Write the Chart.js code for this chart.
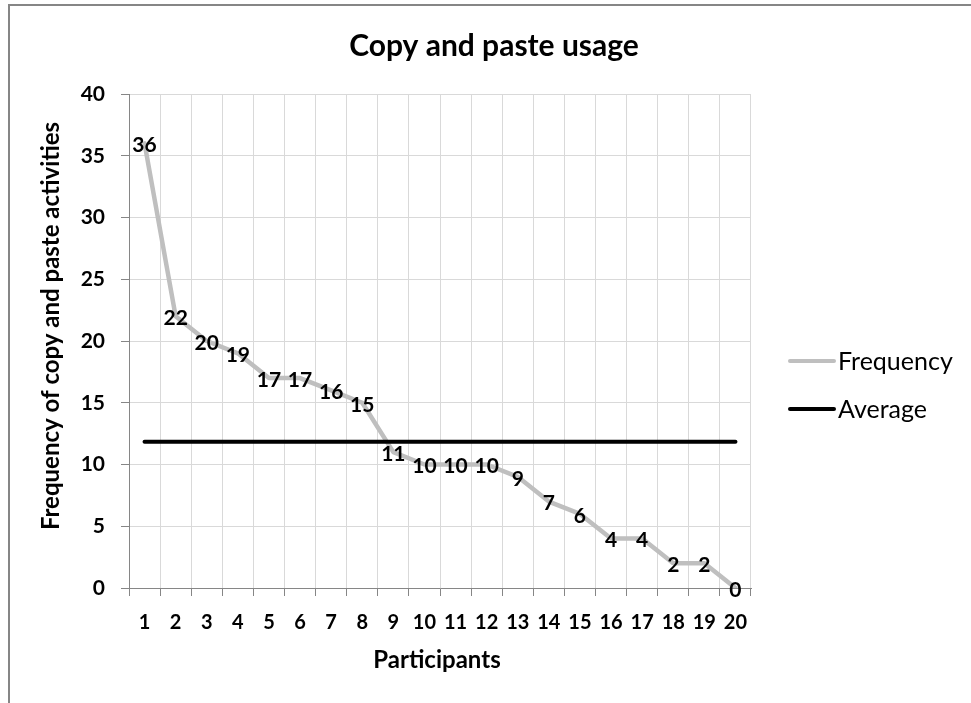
<!DOCTYPE html>
<html>
<head>
<meta charset="utf-8">
<title>Copy and paste usage</title>
<script src="https://cdn.jsdelivr.net/npm/chart.js@4.4.0/dist/chart.umd.min.js"></script>
<style>
  html, body { margin: 0; padding: 0; background: #fff; }
  #wrap { position: relative; width: 971px; height: 703px; }
</style>
</head>
<body>
<div id="wrap"><canvas id="usage-chart" width="971" height="703"></canvas></div>
<script>
// Người tham gia (trục x)
const participants = ['1', '2', '3', '4', '5', '6', '7', '8', '9', '10',
                      '11', '12', '13', '14', '15', '16', '17', '18', '19', '20'];
// Số lần copy/paste của từng người
const frequencyValues = [36, 22, 20, 19, 17, 17, 16, 15, 11, 10, 10, 10, 9, 7, 6, 4, 4, 2, 2, 0];
// Giá trị trung bình (237 / 20)
const averageValues = [11.85, 11.85, 11.85, 11.85, 11.85, 11.85, 11.85, 11.85, 11.85, 11.85,
                       11.85, 11.85, 11.85, 11.85, 11.85, 11.85, 11.85, 11.85, 11.85, 11.85];
// Các mốc trên trục y
const yTickValues = [0, 5, 10, 15, 20, 25, 30, 35, 40];

const FONT = 'Lato, "Open Sans", sans-serif';
const AXIS_GREY = '#868686';
const GRID_GREY = '#d9d9d9';
const FREQ_GREY = '#bfbfbf';

// Nền trắng + khung viền xám (trên và trái)
const framePlugin = {
    id: 'frame',
    beforeDraw(chart) {
        const ctx = chart.ctx;
        ctx.save();
        ctx.fillStyle = '#fff';
        ctx.fillRect(0, 0, chart.width, chart.height);
        ctx.strokeStyle = AXIS_GREY;
        ctx.lineWidth = 2;
        ctx.beginPath();
        ctx.moveTo(9, chart.height);
        ctx.lineTo(9, 5);
        ctx.lineTo(chart.width, 5);
        ctx.stroke();
        ctx.restore();
    }
};

// Nhãn giá trị đặt ngay trên từng điểm của đường Frequency
const valueLabelPlugin = {
    id: 'valueLabels',
    afterDatasetsDraw(chart) {
        const ctx = chart.ctx;
        const meta = chart.getDatasetMeta(0);
        ctx.save();
        ctx.font = 'bold 21px ' + FONT;
        ctx.fillStyle = '#000';
        ctx.textAlign = 'center';
        ctx.textBaseline = 'middle';
        meta.data.forEach((pt, i) => {
            ctx.fillText(String(frequencyValues[i]), pt.x, pt.y + 2);
        });
        ctx.restore();
    }
};

// Tiêu đề, tên trục và chú thích
const textPlugin = {
    id: 'texts',
    afterDraw(chart) {
        const ctx = chart.ctx;
        const area = chart.chartArea;
        ctx.save();
        ctx.fillStyle = '#000';

        // tiêu đề
        ctx.font = 'bold 30px ' + FONT;
        ctx.textAlign = 'center';
        ctx.textBaseline = 'alphabetic';
        ctx.fillText('Copy and paste usage', 494, 56);

        // tên trục x
        ctx.font = 'bold 24px ' + FONT;
        ctx.fillText('Participants', 437, 668);

        // tên trục y (xoay dọc)
        ctx.save();
        ctx.translate(59, 326);
        ctx.rotate(-Math.PI / 2);
        ctx.fillText('Frequency of copy and paste activities', 0, 0);
        ctx.restore();

        // chú thích bên phải
        const items = [
            { text: 'Frequency', color: FREQ_GREY, y: 361 },
            { text: 'Average', color: '#000', y: 409 }
        ];
        ctx.font = '25px ' + FONT;
        ctx.textAlign = 'left';
        ctx.textBaseline = 'middle';
        ctx.lineWidth = 4;
        ctx.lineCap = 'round';
        items.forEach(item => {
            ctx.strokeStyle = item.color;
            ctx.beginPath();
            ctx.moveTo(790, item.y);
            ctx.lineTo(834, item.y);
            ctx.stroke();
            ctx.fillText(item.text, 838, item.y + 1);
        });
        ctx.restore();
    }
};

const canvas = document.getElementById('usage-chart');
const usageChart = new Chart(canvas, {
    type: 'line',
    data: {
        labels: participants,
        datasets: [{
            label: 'Frequency',
            data: frequencyValues,
            borderColor: FREQ_GREY,
            backgroundColor: FREQ_GREY,
            borderWidth: 4.5,
            borderJoinStyle: 'round',
            borderCapStyle: 'round',
            pointRadius: 0,
            tension: 0,
            order: 1
        }, {
            label: 'Average',
            data: averageValues,
            borderColor: '#000',
            backgroundColor: '#000',
            borderWidth: 4,
            borderCapStyle: 'round',
            pointRadius: 0,
            tension: 0,
            order: 0
        }]
    },
    options: {
        responsive: false,
        animation: false,
        events: [],
        layout: {
            padding: { top: 94, right: 220, left: 0, bottom: 0 }
        },
        plugins: {
            legend: { display: false },
            title: { display: false },
            tooltip: { enabled: false }
        },
        scales: {
            x: {
                offset: true,
                grid: {
                    offset: true,
                    color: GRID_GREY,
                    tickColor: AXIS_GREY,
                    tickLength: 8
                },
                border: { color: AXIS_GREY, width: 1 },
                ticks: {
                    color: '#000',
                    font: { family: FONT, size: 20, weight: 'bold' },
                    padding: 15,
                    maxRotation: 0,
                    autoSkip: false
                },
                afterFit(scale) { scale.height = 115; }
            },
            y: {
                min: 0,
                max: 40,
                grid: {
                    color: GRID_GREY,
                    tickColor: AXIS_GREY,
                    tickLength: 8
                },
                border: { color: AXIS_GREY, width: 1 },
                ticks: {
                    color: '#000',
                    font: { family: FONT, size: 21, weight: 'bold' },
                    padding: 16
                },
                afterBuildTicks(scale) {
                    scale.ticks = yTickValues.map(v => ({ value: v }));
                },
                afterFit(scale) { scale.width = 129; }
            }
        }
    },
    plugins: [framePlugin, valueLabelPlugin, textPlugin]
});
</script>
</body>
</html>
